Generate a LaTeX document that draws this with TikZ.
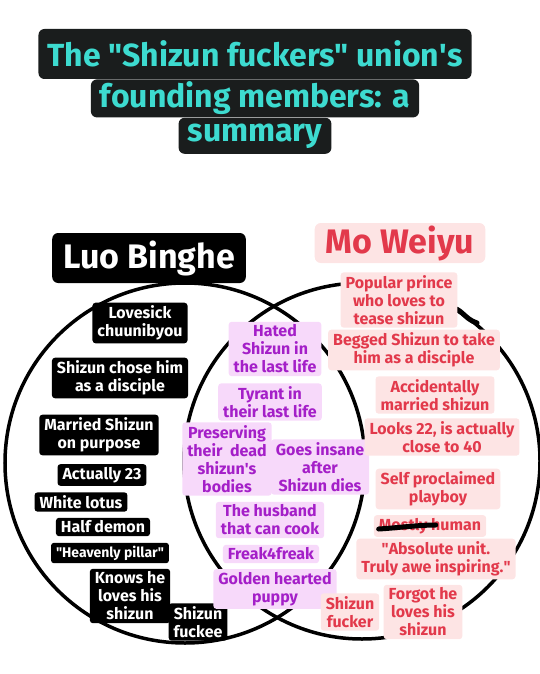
\documentclass[tikz,border=0pt]{standalone}
\usepackage{fontspec}
\setmainfont{Fira Sans}
\usetikzlibrary{positioning}
\definecolor{titlecyan}{HTML}{3DDBD0}
\definecolor{titleblack}{HTML}{1A1D1D}
\definecolor{lilacfill}{HTML}{F7D9FA}
\definecolor{lilactext}{HTML}{A41FC8}
\definecolor{blushfill}{HTML}{FDE4E4}
\definecolor{blushtext}{HTML}{E2394B}

\begin{document}
\begin{tikzpicture}[
  x=1pt, y=-1pt,
  titleblock/.style={
    fill=titleblack,
    text=titlecyan,
    rounded corners=6pt,
    inner xsep=9pt,
    inner ysep=0pt,
    font=\bfseries\fontsize{32}{38}\selectfont
  },
  namebig/.style={
    rounded corners=6pt,
    inner xsep=11pt,
    inner ysep=0pt,
    font=\bfseries\fontsize{34}{40}\selectfont
  },
  lbblock/.style={
    fill=black,
    text=white,
    rounded corners=3pt,
    inner xsep=5pt,
    inner ysep=3pt,
    align=center,
    font=\bfseries\fontsize{16}{18}\selectfont
  },
  bothblock/.style={
    fill=lilacfill,
    text=lilactext,
    rounded corners=3pt,
    inner xsep=5pt,
    inner ysep=3pt,
    align=center,
    font=\bfseries\fontsize{16}{18}\selectfont
  },
  mwblock/.style={
    fill=blushfill,
    text=blushtext,
    rounded corners=3pt,
    inner xsep=5pt,
    inner ysep=3pt,
    align=center,
    font=\bfseries\fontsize{16}{18}\selectfont
  },
  ring/.style={draw=black, line width=3.5pt},
  scribble/.style={draw=black, line width=5pt, line cap=round}
]
\useasboundingbox (0,0) rectangle (540,674);

% title
\node[titleblock, minimum height=50pt] (title1) at (255,54) {The \textquotedbl Shizun fuckers\textquotedbl\ union\textquotesingle s};
\node[titleblock, minimum height=38pt, below=0pt of title1] (title2) {founding members: a};
\node[titleblock, minimum height=36pt, below=0pt of title2] (title3) {summary};

% the two circles
\draw[ring] (185,463) circle[radius=180pt];
\draw[ring] (362,461) circle[radius=178pt];
\draw[scribble] (451,309) .. controls (460,306) and (464,319) .. (477,323);

% names
\node[namebig, fill=black, text=white, minimum height=50pt] (luo) at (149,258) {Luo Binghe};
\node[namebig, fill=blushfill, text=blushtext, minimum height=40pt] (mo) at (400,243) {Mo Weiyu};

% Luo Binghe only
\node[lbblock] (lb1) at (140,323) {Lovesick\\chuunibyou};
\node[lbblock] (lb2) at (120,378) {Shizun chose him\\as a disciple};
\node[lbblock] (lb3) at (99,435) {Married Shizun\\on purpose};
\node[lbblock] (lb4) at (102,475) {Actually 23};
\node[lbblock] (lb5) at (81,502) {White lotus};
\node[lbblock] (lb6) at (103,527) {Half demon};
\node[lbblock, font=\bfseries\fontsize{14}{16}\selectfont] (lb7) at (110,553) {\textquotedbl Heavenly pillar\textquotedbl};
\node[lbblock] (lb8) at (130,596) {Knows he\\loves his\\shizun};
\node[lbblock] (lb9) at (198,622) {Shizun\\fuckee};

% both
\node[bothblock] (both1) at (275,349) {Hated\\Shizun in\\the last life};
\node[bothblock] (both2) at (270,402) {Tyrant in\\their last life};
\node[bothblock] (both3) at (227,459) {Preserving\\their\ \ dead\\shizun\textquotesingle s\\bodies};
\node[bothblock] (both4) at (320,467) {Goes insane\\after\\Shizun dies};
\node[bothblock] (both5) at (270,520) {The husband\\that can cook};
\node[bothblock] (both6) at (271,554) {Freak4freak};
\node[bothblock] (both7) at (275,589) {Golden hearted\\puppy};

% Mo Weiyu only
\node[mwblock] (mw1) at (399,300) {Popular prince\\who loves to\\tease shizun};
\node[mwblock] (mw2) at (414,350) {Begged Shizun to take\\him as a disciple};
\node[mwblock] (mw3) at (435,395) {Accidentally\\married shizun};
\node[mwblock] (mw4) at (442,437) {Looks 22, is actually\\close to 40};
\node[mwblock] (mw5) at (438,489) {Self proclaimed\\playboy};
\node[mwblock] (mw6) at (430,526) {Mostly human};
\node[mwblock] (mw7) at (436,559) {\textquotedbl Absolute unit.\\Truly awe inspiring.\textquotedbl};
\node[mwblock] (mw8) at (423,612) {Forgot he\\loves his\\shizun};
\node[mwblock] (mw9) at (350,612) {Shizun\\fucker};

% crossed out word
\draw[scribble] ([xshift=5pt,yshift=-3pt]mw6.west) .. controls ([xshift=22pt,yshift=-2pt]mw6.west) and ([xshift=45pt,yshift=1pt]mw6.west) .. ([xshift=62pt,yshift=1pt]mw6.west);

\end{tikzpicture}
\end{document}
